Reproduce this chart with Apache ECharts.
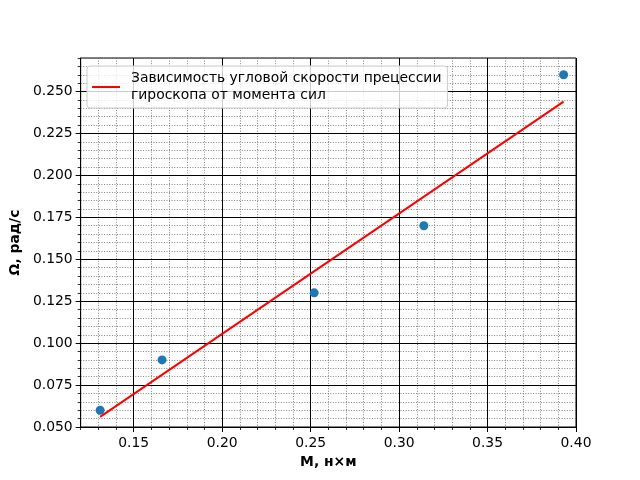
<!DOCTYPE html>
<html>
<head>
<meta charset="utf-8">
<script src="https://cdn.jsdelivr.net/npm/echarts@6/dist/echarts.min.js"></script>
<style>html,body{margin:0;padding:0;background:#fff}#c{width:640px;height:480px}</style>
</head>
<body>
<div id="c"></div>
<script>
const mValues = [0.131, 0.166, 0.252, 0.314, 0.393];
const omegaValues = [0.06, 0.09, 0.13, 0.17, 0.26];
const fitM = [0.131, 0.393];
const fitOmega = [0.056, 0.244];
const xTicks = [0.15, 0.20, 0.25, 0.30, 0.35, 0.40];
const yTicks = [0.050, 0.075, 0.100, 0.125, 0.150, 0.175, 0.200, 0.225, 0.250];
const legendLabel = 'Зависимость угловой скорости прецессии\nгироскопа от момента сил';
const xName = 'M, н×м';
const yName = 'Ω, рад/с';

const FONT = 'DejaVu Sans';
const chart = echarts.init(document.getElementById('c'), null, {renderer: 'canvas'});

const minorSplit = {show: true, lineStyle: {color: '#666', width: 0.8, type: [1, 1.6]}};

chart.setOption({
  animation: false,
  backgroundColor: '#fff',
  grid: {left: 80, right: 64, top: 58, bottom: 53, show: true, borderColor: '#000', borderWidth: 1, backgroundColor: 'transparent'},
  legend: {
    left: 87, top: 66,
    padding: [4, 6, 4, 5],
    itemWidth: 28, itemHeight: 2,
    icon: 'rect',
    backgroundColor: 'rgba(255,255,255,0.8)',
    borderColor: '#cccccc', borderWidth: 1, borderRadius: 3,
    data: [{name: legendLabel}],
    textStyle: {fontFamily: FONT, fontSize: 13.9, color: '#000', lineHeight: 17, padding: [0, 0, 0, 6]}
  },
  xAxis: [
    {
      type: 'value', min: 0.12, max: 0.40, interval: 0.01,
      position: 'bottom',
      name: xName, nameLocation: 'middle', nameGap: 28,
      nameTextStyle: {fontFamily: FONT, fontSize: 13.9, fontWeight: 'bold', color: '#000'},
      axisLine: {show: true, onZero: false, lineStyle: {color: '#000', width: 1}},
      axisTick: {show: true, inside: false, length: 5, customValues: xTicks, lineStyle: {color: '#000', width: 1}},
      axisLabel: {show: true, margin: 9, customValues: xTicks, fontFamily: FONT, fontSize: 13.9, color: '#000', formatter: v => v.toFixed(2)},
      splitLine: {show: true, lineStyle: {color: '#000', width: 1}},
      z: 3
    },
    {
      type: 'value', min: 0.12, max: 0.40, interval: 0.01,
      position: 'bottom', offset: 0,
      axisLine: {show: false, onZero: false},
      axisTick: {show: true, inside: false, length: 3, lineStyle: {color: '#000', width: 0.8}},
      axisLabel: {show: false},
      splitLine: minorSplit,
      z: 1
    }
  ],
  yAxis: [
    {
      type: 'value', min: 0.05, max: 0.27, interval: 0.005,
      position: 'left',
      name: yName, nameLocation: 'middle', nameGap: 54, nameRotate: 90,
      nameTextStyle: {fontFamily: FONT, fontSize: 13.9, fontWeight: 'bold', color: '#000'},
      axisLine: {show: true, onZero: false, lineStyle: {color: '#000', width: 1}},
      axisTick: {show: true, inside: false, length: 5, customValues: yTicks, lineStyle: {color: '#000', width: 1}},
      axisLabel: {show: true, margin: 8, customValues: yTicks, fontFamily: FONT, fontSize: 13.9, color: '#000', formatter: v => v.toFixed(3)},
      splitLine: {show: true, lineStyle: {color: '#000', width: 1}},
      z: 3
    },
    {
      type: 'value', min: 0.05, max: 0.27, interval: 0.005,
      position: 'left', offset: 0,
      axisLine: {show: false, onZero: false},
      axisTick: {show: true, inside: false, length: 3, lineStyle: {color: '#000', width: 0.8}},
      axisLabel: {show: false},
      splitLine: minorSplit,
      z: 1
    }
  ],
  series: [
    {
      type: 'scatter', name: 'points', xAxisIndex: 0, yAxisIndex: 0,
      symbolSize: 9,
      itemStyle: {color: '#1f77b4', opacity: 1},
      data: mValues.map((m, i) => [m, omegaValues[i]]),
      z: 5
    },
    {
      type: 'line', name: legendLabel, xAxisIndex: 0, yAxisIndex: 0,
      showSymbol: false, symbol: 'none',
      lineStyle: {color: '#ff0000', width: 2},
      itemStyle: {color: '#ff0000'},
      data: fitM.map((m, i) => [m, fitOmega[i]]),
      z: 6
    }
  ]
});
</script>
</body>
</html>
